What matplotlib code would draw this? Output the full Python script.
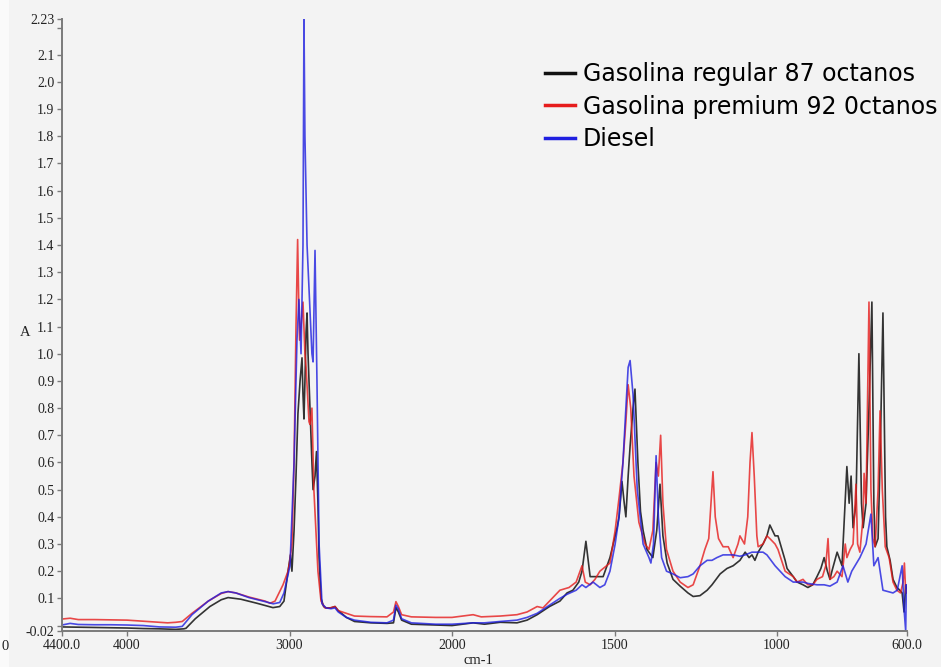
import numpy as np
import matplotlib.pyplot as plt
from matplotlib.lines import Line2D
from matplotlib.patches import Rectangle

# espectros IR (cm-1, absorbancia)
wn_reg = [4400, 4300, 4200, 4100, 4000, 3900, 3800, 3700, 3650, 3637, 3580, 3490, 3420, 3378, 3300, 3200,
          3102, 3060, 3034, 3009, 2994, 2985, 2972, 2960, 2948, 2935, 2923, 2917, 2911, 2905, 2898, 2892,
          2886, 2874, 2862, 2855, 2843, 2834, 2825, 2818, 2806, 2790, 2775, 2745, 2720, 2700, 2650, 2600,
          2500, 2400, 2360, 2345, 2330, 2310, 2250, 2100, 2000, 1935, 1900, 1852, 1800, 1769, 1738, 1700,
          1668, 1646, 1628, 1610, 1600, 1588, 1575, 1560, 1545, 1535, 1514, 1498, 1492, 1486, 1477, 1470,
          1465, 1458, 1452, 1443, 1437, 1428, 1420, 1412, 1400, 1388, 1382, 1370, 1360, 1351, 1338, 1320,
          1298, 1274, 1258, 1237, 1215, 1200, 1175, 1154, 1135, 1114, 1098, 1086, 1077, 1068, 1058, 1043,
          1031, 1022, 1006, 997, 975, 969, 950, 938, 920, 905, 890, 877, 865, 855, 845, 837, 831, 815, 800,
          785, 778, 772, 766, 757, 748, 740, 735, 726, 717, 708, 702, 698, 689, 683, 674, 666, 662, 652, 643,
          631, 622, 615, 609, 604, 600]
a_reg = [-0.005, -0.006, -0.007, -0.008, -0.009, -0.011, -0.012, -0.014, -0.012, -0.01, 0.025, 0.07, 0.095,
         0.103, 0.097, 0.082, 0.066, 0.07, 0.09, 0.2, 0.26, 0.2, 0.35, 0.55, 0.78, 0.9, 0.985, 0.85, 0.76, 0.9,
         1.08, 1.15, 1.0, 0.8, 0.6, 0.5, 0.55, 0.64, 0.45, 0.25, 0.1, 0.07, 0.065, 0.065, 0.07, 0.055, 0.03,
         0.015, 0.01, 0.008, 0.01, 0.066, 0.05, 0.02, 0.005, 0.002, 0.0, 0.01, 0.005, 0.012, 0.01, 0.02, 0.04,
         0.07, 0.09, 0.12, 0.13, 0.16, 0.2, 0.31, 0.18, 0.18, 0.18, 0.18, 0.25, 0.33, 0.36, 0.40, 0.53, 0.45,
         0.40, 0.55, 0.66, 0.8, 0.87, 0.6, 0.42, 0.35, 0.28, 0.26, 0.25, 0.35, 0.52, 0.33, 0.23, 0.17, 0.145,
         0.12, 0.107, 0.11, 0.13, 0.15, 0.19, 0.21, 0.22, 0.24, 0.27, 0.25, 0.26, 0.24, 0.27, 0.30, 0.33, 0.37,
         0.33, 0.33, 0.24, 0.21, 0.18, 0.16, 0.15, 0.14, 0.15, 0.18, 0.21, 0.25, 0.2, 0.17, 0.2, 0.27, 0.22,
         0.585, 0.45, 0.55, 0.36, 0.45, 1.0, 0.45, 0.36, 0.45, 0.8, 1.19, 0.45, 0.29, 0.32, 0.6, 1.15, 0.4,
         0.29, 0.24, 0.17, 0.14, 0.13, 0.12, 0.05, 0.15, 0.12]

wn_pre = [4400, 4350, 4300, 4200, 4100, 4000, 3900, 3800, 3750, 3700, 3660, 3600, 3500, 3420, 3378, 3330,
          3250, 3150, 3120, 3089, 3040, 3009, 3000, 2985, 2972, 2960, 2950, 2942, 2938, 2929, 2917, 2905,
          2898, 2880, 2874, 2862, 2850, 2825, 2806, 2782, 2751, 2720, 2700, 2650, 2600, 2500, 2400, 2360,
          2345, 2330, 2310, 2250, 2100, 2000, 1935, 1910, 1852, 1800, 1769, 1738, 1720, 1700, 1668, 1640,
          1618, 1600, 1590, 1575, 1560, 1545, 1514, 1498, 1486, 1474, 1465, 1458, 1450, 1440, 1425, 1406,
          1394, 1382, 1372, 1365, 1358, 1351, 1340, 1320, 1298, 1274, 1258, 1237, 1222, 1210, 1203, 1197,
          1190, 1180, 1166, 1150, 1135, 1120, 1114, 1100, 1090, 1083, 1077, 1070, 1062, 1058, 1043, 1031,
          1022, 1006, 997, 975, 950, 938, 920, 905, 890, 877, 860, 850, 843, 837, 825, 815, 800, 790, 785,
          775, 766, 757, 752, 745, 735, 732, 726, 717, 711, 705, 698, 689, 683, 676, 667, 655, 643, 631, 620,
          612, 608, 604, 600]
a_pre = [0.024, 0.027, 0.022, 0.022, 0.021, 0.02, 0.016, 0.012, 0.01, 0.012, 0.015, 0.045, 0.09, 0.118, 0.125,
         0.12, 0.105, 0.09, 0.082, 0.09, 0.15, 0.2, 0.23, 0.3, 0.6, 1.1, 1.42, 1.15, 1.05, 1.1, 1.19, 1.0, 0.95,
         0.75, 0.74, 0.80, 0.5, 0.2, 0.09, 0.065, 0.065, 0.07, 0.055, 0.045, 0.035, 0.033, 0.032, 0.05, 0.088,
         0.07, 0.04, 0.032, 0.03, 0.03, 0.04, 0.032, 0.035, 0.04, 0.05, 0.07, 0.065, 0.09, 0.13, 0.14, 0.16,
         0.22, 0.16, 0.15, 0.17, 0.2, 0.23, 0.35, 0.47, 0.6, 0.75, 0.886, 0.8, 0.55, 0.38, 0.30, 0.28, 0.35,
         0.6, 0.55, 0.70, 0.45, 0.28, 0.2, 0.16, 0.14, 0.15, 0.22, 0.28, 0.32, 0.45, 0.566, 0.4, 0.32, 0.29,
         0.29, 0.25, 0.3, 0.33, 0.30, 0.4, 0.6, 0.71, 0.55, 0.33, 0.29, 0.3, 0.33, 0.32, 0.3, 0.28, 0.2, 0.18,
         0.16, 0.17, 0.15, 0.15, 0.17, 0.18, 0.22, 0.32, 0.17, 0.18, 0.2, 0.18, 0.3, 0.25, 0.28, 0.3, 0.52,
         0.3, 0.27, 0.4, 0.56, 0.45, 1.19, 0.5, 0.32, 0.29, 0.5, 0.79, 0.5, 0.29, 0.25, 0.16, 0.13, 0.12, 0.16,
         0.23, 0.12, 0.13]

wn_die = [4400, 4350, 4300, 4200, 4100, 4000, 3900, 3800, 3700, 3660, 3600, 3500, 3420, 3378, 3330, 3250,
          3150, 3100, 3060, 3034, 2997, 2972, 2954, 2942, 2929, 2917, 2911, 2905, 2892, 2877, 2862, 2855,
          2843, 2831, 2818, 2800, 2775, 2745, 2720, 2700, 2650, 2600, 2500, 2400, 2360, 2345, 2330, 2310,
          2250, 2100, 2000, 1935, 1900, 1852, 1800, 1769, 1738, 1700, 1668, 1646, 1618, 1600, 1588, 1566,
          1545, 1530, 1514, 1498, 1486, 1474, 1465, 1458, 1452, 1443, 1430, 1412, 1394, 1388, 1380, 1372,
          1365, 1355, 1340, 1320, 1298, 1274, 1258, 1237, 1215, 1200, 1185, 1166, 1135, 1114, 1098, 1077,
          1058, 1043, 1031, 1006, 975, 950, 920, 905, 877, 855, 837, 815, 797, 782, 770, 745, 726, 711, 702,
          689, 674, 643, 630, 615, 609, 604, 602, 600]
a_die = [0.002, 0.008, 0.004, 0.003, 0.003, 0.002, 0.0, -0.005, -0.006, -0.003, 0.04, 0.09, 0.12, 0.125, 0.12,
         0.103, 0.088, 0.08, 0.085, 0.12, 0.22, 0.6, 1.05, 1.2, 1.0, 1.4, 2.23, 1.8, 1.4, 1.2, 1.0, 0.97, 1.38,
         0.9, 0.3, 0.08, 0.065, 0.062, 0.065, 0.05, 0.03, 0.02, 0.012, 0.01, 0.02, 0.075, 0.06, 0.025, 0.01,
         0.005, 0.005, 0.01, 0.01, 0.015, 0.02, 0.03, 0.045, 0.075, 0.1, 0.115, 0.13, 0.15, 0.14, 0.16, 0.14,
         0.15, 0.2, 0.3, 0.4, 0.6, 0.8, 0.95, 0.975, 0.85, 0.5, 0.3, 0.25, 0.23, 0.3, 0.625, 0.4, 0.25, 0.2,
         0.19, 0.176, 0.18, 0.19, 0.22, 0.24, 0.24, 0.25, 0.26, 0.26, 0.255, 0.26, 0.27, 0.27, 0.27, 0.26,
         0.22, 0.18, 0.16, 0.16, 0.155, 0.15, 0.15, 0.145, 0.16, 0.22, 0.16, 0.2, 0.25, 0.3, 0.41, 0.22, 0.25,
         0.13, 0.12, 0.13, 0.22, 0.06, -0.02, 0.15, 0.1]

labels = ["Gasolina regular 87 octanos", "Gasolina premium 92 0ctanos", "Diesel"]
colores = ["#111111", "#e61c1c", "#1f1fe0"]

xticks = [4400, 4000, 3000, 2000, 1500, 1000, 600]
xticklabels = ["4400.0", "4000", "3000", "2000", "1500", "1000", "600.0"]
yticks = [-0.02, 0.0, 0.1, 0.2, 0.3, 0.4, 0.5, 0.6, 0.7, 0.8, 0.9, 1.0, 1.1, 1.2, 1.3, 1.4, 1.5, 1.6,
          1.7, 1.8, 1.9, 2.0, 2.1, 2.2, 2.23]
yticklabels = ["-0.02", "", "0.1", "0.2", "0.3", "0.4", "0.5", "0.6", "0.7", "0.8", "0.9", "1.0", "1.1",
               "1.2", "1.3", "1.4", "1.5", "1.6", "1.7", "1.8", "1.9", "2.0", "2.1", "", "2.23"]


# escala del espectrometro: por debajo de 2000 cm-1 el eje se expande x2
def fwd(x):
    x = np.asarray(x, dtype=float)
    return np.where(x >= 2000, x, 2 * x - 2000)


def inv(u):
    u = np.asarray(u, dtype=float)
    return np.where(u >= 2000, u, (u + 2000) / 2)


fig = plt.figure(figsize=(9.41, 6.67), dpi=100, facecolor="#f3f3f3")
fig.patches.append(Rectangle((0, 0), 9 / 941, 1, transform=fig.transFigure,
                             facecolor="#fafafa", edgecolor="none", zorder=-5))
ax = fig.add_axes([62 / 941, 1 - 631 / 667, 845 / 941, (631 - 19.4) / 667])
ax.set_facecolor("none")
ax.set_xscale("function", functions=(fwd, inv))

ax.plot(wn_reg, a_reg, color=colores[0], lw=1.2, alpha=0.85)
ax.plot(wn_pre, a_pre, color=colores[1], lw=1.2, alpha=0.8)
ax.plot(wn_die, a_die, color=colores[2], lw=1.2, alpha=0.8)

ax.set_xlim(4400, 600)
ax.set_ylim(-0.02, 2.23)

for s in ["top", "right"]:
    ax.spines[s].set_visible(False)
for s in ["left", "bottom"]:
    ax.spines[s].set_color("#7a7a7a")
    ax.spines[s].set_linewidth(1.4)

ax.set_xticks(xticks)
ax.set_xticklabels(xticklabels)
ax.set_yticks(yticks)
ax.set_yticklabels(yticklabels)
ax.minorticks_off()
ax.tick_params(axis="both", direction="out", length=3.5, width=1.0, color="#7a7a7a",
               labelsize=10, pad=2)
for t in ax.get_xticklabels() + ax.get_yticklabels():
    t.set_fontfamily("Liberation Serif")
    t.set_color("#222222")

fig.text(25 / 941, 1 - 333 / 667, "A", family="Liberation Serif", fontsize=10.5,
         ha="center", va="center", color="#222222")
fig.text(5 / 941, 1 - 646 / 667, "0", family="Liberation Serif", fontsize=10.5,
         ha="center", va="center", color="#222222")
fig.text(478 / 941, 1 - 654 / 667, "cm-1", family="Liberation Serif", fontsize=10.5,
         ha="center", va="top", color="#222222")

handles = [Line2D([], [], color=c, lw=2.5) for c in colores]
ax.legend(handles, labels, loc="upper left", bbox_to_anchor=(545 / 941, 1 - 62 / 667),
          bbox_transform=fig.transFigure, frameon=False, borderpad=0,
          borderaxespad=0, handlelength=1.27, handletextpad=0.34, labelspacing=0.37,
          prop={"family": "DejaVu Sans", "size": 17})

fig.savefig("out.png", dpi=100, facecolor=fig.get_facecolor())
